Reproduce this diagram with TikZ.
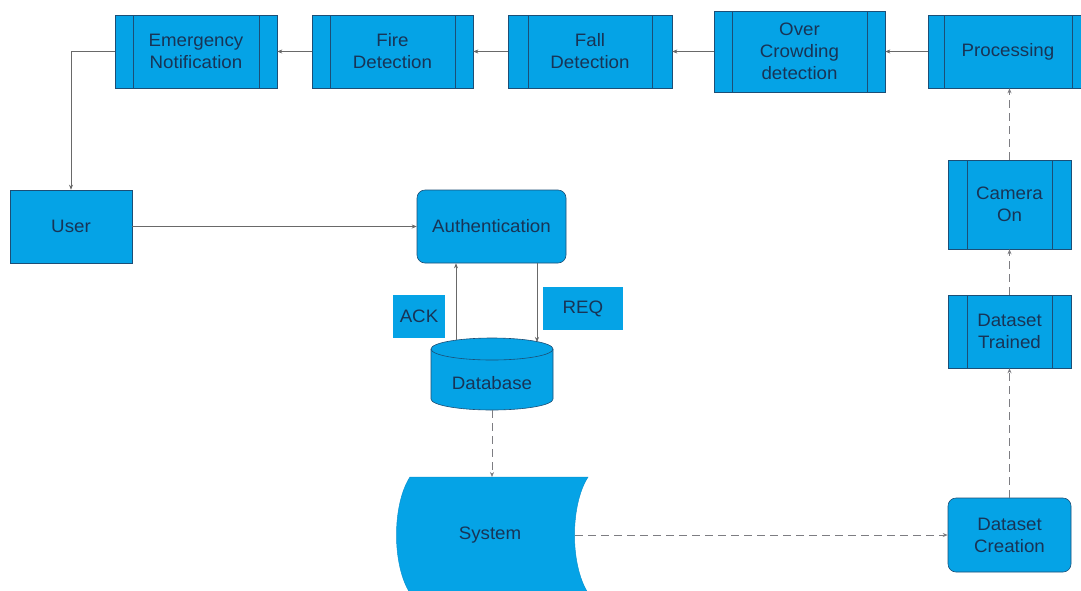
\documentclass[tikz,border=0pt]{standalone}
\usepackage{fontspec}
\setmainfont{Liberation Sans}[FakeStretch=1.04]
\usetikzlibrary{arrows.meta}
\definecolor{fillc}{RGB}{5,163,230}
\definecolor{bordc}{RGB}{28,78,118}
\definecolor{textc}{RGB}{24,52,86}
\definecolor{linec}{RGB}{105,105,105}
\definecolor{dashc}{RGB}{125,125,130}
\tikzset{
  box/.style={fill=fillc, draw=bordc, line width=0.6pt, text=textc, align=center,
    inner sep=0pt, font=\fontsize{18}{22}\selectfont},
  rbox/.style={box, rounded corners=8pt},
  predef/.style={box, path picture={
    \draw[bordc, line width=0.7pt]
      ([xshift=#1]path picture bounding box.north west) -- ([xshift=#1]path picture bounding box.south west)
      ([xshift=-#1]path picture bounding box.north east) -- ([xshift=-#1]path picture bounding box.south east);}},
  predef/.default=18pt,
  tip/.style={-{Stealth[length=5pt,width=4pt]}},
  solidline/.style={tip, draw=linec, line width=0.6pt},
  dashline/.style={tip, draw=dashc, line width=0.7pt, dash pattern=on 8pt off 5pt},
}
\begin{document}
\begin{tikzpicture}[x=1pt,y=-1pt]
\useasboundingbox (0,0) rectangle (1081,590);
\clip (0,0) rectangle (1081,590);
\fill[white] (0,0) rectangle (1081,590);
% top row
\node[predef, minimum width=162pt, minimum height=73pt] (emerg) at (196,51.5) {Emergency\\Notification};
\node[predef, minimum width=161pt, minimum height=73pt] (fire) at (392.5,51.5) {Fire\\Detection};
\node[predef=20pt, minimum width=164pt, minimum height=73pt] (fall) at (590,51.5) {Fall\\Detection};
\node[predef, minimum width=171pt, minimum height=81pt] (over) at (799.5,51.5) {Over\\Crowding\\detection};
\node[predef=16pt, minimum width=160pt, minimum height=73pt] (proc) at (1008,51.5) {Processing};
% middle
\node[box, minimum width=122pt, minimum height=73pt] (user) at (71,226.5) {User};
\node[rbox, minimum width=149pt, minimum height=73pt] (auth) at (491.5,226.5) {Authentication};
\node[box, draw=none, minimum width=52pt, minimum height=43pt] (ack) at (419,316.5) {ACK};
\node[box, draw=none, minimum width=80pt, minimum height=43pt] (req) at (583,308.5) {REQ};
% database cylinder
\fill[fillc] (431,349) -- (431,399) arc[start angle=180, end angle=360, x radius=61, y radius=-11] -- (553,349) -- cycle;
\fill[fillc] (492,349) ellipse[x radius=61, y radius=11];
\draw[bordc, line width=0.6pt] (431,349) -- (431,399) arc[start angle=180, end angle=360, x radius=61, y radius=-11] -- (553,349);
\draw[bordc, line width=0.6pt] (492,349) ellipse[x radius=61, y radius=11];
\node[text=textc, font=\fontsize{18}{22}\selectfont] (db) at (492,383) {Database};
\coordinate (dbtop) at (492,338);
\coordinate (dbbot) at (492,410);
\coordinate (dbA) at (456,340);
\coordinate (dbR) at (537,342);
% system shape
\fill[fillc] (410,477) -- (588,477) .. controls (570,505) and (570,565) .. (588,593) -- (410,593) .. controls (392,565) and (392,505) .. (410,477);
\draw[fillc!80!bordc, line width=0.5pt] (410,477) -- (588,477) .. controls (570,505) and (570,565) .. (588,593) -- (410,593) .. controls (392,565) and (392,505) .. (410,477);
\node[text=textc, font=\fontsize{18}{22}\selectfont] (sys) at (490,535) {System};
\coordinate (systop) at (492,477);
\coordinate (sysR) at (575,535);
% right column
\node[rbox, minimum width=123pt, minimum height=74pt] (dc) at (1009.5,535) {Dataset\\Creation};
\node[predef=19pt, minimum width=123pt, minimum height=73pt] (dt) at (1009.5,331.5) {Dataset\\Trained};
\node[predef=19pt, minimum width=123pt, minimum height=89pt] (cam) at (1009.5,204.5) {Camera\\On};
% connectors
\draw[solidline] (proc.west) -- (over.east);
\draw[solidline] (over.west) -- (fall.east);
\draw[solidline] (fall.west) -- (fire.east);
\draw[solidline] (fire.west) -- (emerg.east);
\draw[solidline] (emerg.west) -| (user.north);
\draw[solidline] (user.east) -- (auth.west);
\draw[solidline] (dbR |- auth.south) -- (dbR);
\draw[solidline] (dbA) -- (dbA |- auth.south);
\draw[dashline] (dbbot) -- (systop);
\draw[dashline] (sysR) -- (sysR -| dc.west);
\draw[dashline] (dc.north) -- (dt.south);
\draw[dashline] (dt.north) -- (cam.south);
\draw[dashline] (cam.north) -- (cam.north |- proc.south);
\end{tikzpicture}
\end{document}
